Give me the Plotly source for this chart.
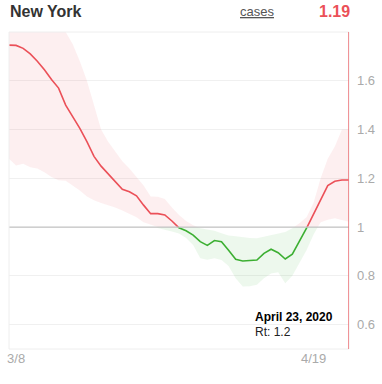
import numpy as np
import pandas as pd
import plotly.graph_objects as go

# ---- data ----
start_date = "2020-03-07"
rt = [1.746, 1.745, 1.733, 1.71, 1.68, 1.645, 1.605, 1.57, 1.50, 1.455,
      1.405, 1.35, 1.29, 1.25, 1.218, 1.185, 1.155, 1.145, 1.128, 1.09,
      1.055, 1.055, 1.05, 1.025, 0.997, 0.985, 0.967, 0.94, 0.925, 0.945,
      0.94, 0.905, 0.868, 0.861, 0.862, 0.865, 0.892, 0.909, 0.895, 0.869,
      0.889, 0.94, 0.995, 1.055, 1.115, 1.17, 1.188, 1.193, 1.193]
upper = [2.3, 2.25, 2.2, 2.12, 2.05, 1.98, 1.92, 1.86, 1.80, 1.75,
         1.68, 1.60, 1.50, 1.40, 1.35, 1.31, 1.27, 1.24, 1.205, 1.17,
         1.125, 1.124, 1.115, 1.08, 1.05, 1.025, 1.008, 0.995, 0.99, 0.985,
         0.975, 0.965, 0.962, 0.958, 0.955, 0.954, 0.96, 0.967, 0.972, 0.98,
         0.995, 1.016, 1.04, 1.10, 1.20, 1.28, 1.33, 1.40, 1.40]
lower = [1.28, 1.253, 1.26, 1.245, 1.24, 1.225, 1.205, 1.192, 1.19, 1.17,
         1.15, 1.125, 1.11, 1.099, 1.09, 1.08, 1.068, 1.055, 1.04, 1.02,
         1.01, 0.996, 0.99, 0.982, 0.974, 0.955, 0.927, 0.872, 0.866, 0.872,
         0.865, 0.84, 0.79, 0.756, 0.757, 0.763, 0.79, 0.81, 0.815, 0.77,
         0.80, 0.85, 0.905, 0.97, 1.02, 1.03, 1.036, 1.03, 1.022]
y_ticks = [0.6, 0.8, 1, 1.2, 1.4, 1.6]
x_tick_dates = ["2020-03-08", "2020-04-19"]
x_tick_text = ["3/8", "4/19"]
title = "New York"
latest = "1.19"
hover_date = "April 23, 2020"
hover_rt = "Rt: 1.2"

RED = "rgb(235,80,88)"
GREEN = "rgb(60,175,50)"
PINK_FILL = "rgba(235,80,88,0.09)"
GREEN_FILL = "rgba(60,175,50,0.09)"

n = len(rt)
t0 = pd.Timestamp(start_date)
xd = np.arange(n, dtype=float)

def with_crossings(xs, series, thr=1.0):
    pts = set(xs.tolist())
    for s in series:
        s = np.asarray(s, float)
        for i in range(len(xs) - 1):
            a, b = s[i] - thr, s[i + 1] - thr
            if a * b < 0:
                pts.add(xs[i] + (xs[i + 1] - xs[i]) * a / (a - b))
    xx = np.array(sorted(pts))
    return xx, [np.interp(xx, xs, s) for s in series]

def to_dates(xx):
    return [t0 + pd.Timedelta(days=float(v)) for v in xx]

fig = go.Figure()

# band
xb, (ub, lb) = with_crossings(xd, [upper, lower])
dB = to_dates(xb)
fig.add_trace(go.Scatter(x=dB, y=np.maximum(lb, 1), mode="lines", line=dict(width=0),
                         hoverinfo="skip", showlegend=False))
fig.add_trace(go.Scatter(x=dB, y=np.maximum(ub, 1), mode="lines", line=dict(width=0),
                         fill="tonexty", fillcolor=PINK_FILL, hoverinfo="skip", showlegend=False))
fig.add_trace(go.Scatter(x=dB, y=np.minimum(lb, 1), mode="lines", line=dict(width=0),
                         hoverinfo="skip", showlegend=False))
fig.add_trace(go.Scatter(x=dB, y=np.minimum(ub, 1), mode="lines", line=dict(width=0),
                         fill="tonexty", fillcolor=GREEN_FILL, hoverinfo="skip", showlegend=False))

# reference line at 1
fig.add_shape(type="line", xref="paper", x0=0, x1=1, yref="y", y0=1, y1=1,
              line=dict(color="#c4c4c4", width=1.2))

# Rt line split by colour
xl, (yl,) = with_crossings(xd, [rt])
dL = to_dates(xl)
ya = np.where(yl >= 1 - 1e-9, yl, np.nan)
yb = np.where(yl <= 1 + 1e-9, yl, np.nan)
fig.add_trace(go.Scatter(x=dL, y=ya, mode="lines", line=dict(color=RED, width=1.6),
                         connectgaps=False, showlegend=False))
fig.add_trace(go.Scatter(x=dL, y=yb, mode="lines", line=dict(color=GREEN, width=1.6),
                         connectgaps=False, showlegend=False))

last = t0 + pd.Timedelta(days=n - 1)
# frame
fig.add_shape(type="rect", xref="paper", yref="paper", x0=0, x1=1, y0=0, y1=1,
              line=dict(color="#eeeeee", width=1))
# hover marker line
fig.add_shape(type="line", xref="x", yref="paper", x0=last, x1=last, y0=0, y1=1,
              line=dict(color=RED, width=1.2))

H = 317.0
def py(pix):
    return (349 - pix) / H
W = 343.0
def px(pix):
    return (pix - 7) / W

font = "Liberation Sans, Arial, sans-serif"
fig.add_annotation(xref="paper", yref="paper", x=px(6), y=py(12), xanchor="left", yanchor="middle",
                   text="<b>" + title + "</b>", showarrow=False,
                   font=dict(size=16, color="#333333", family=font))
fig.add_annotation(xref="paper", yref="paper", x=px(257), y=py(12), xanchor="center", yanchor="middle",
                   text="<u>cases</u>", showarrow=False,
                   font=dict(size=13, color="#555555", family=font))
fig.add_annotation(xref="paper", yref="paper", x=px(353), y=py(12), xanchor="right", yanchor="middle",
                   text="<b>" + latest + "</b>", showarrow=False,
                   font=dict(size=16, color=RED, family=font))
fig.add_annotation(xref="paper", yref="paper", x=px(253), y=py(317), xanchor="left", yanchor="middle",
                   text="<b>" + hover_date + "</b>", showarrow=False,
                   font=dict(size=12, color="#000000", family=font))
fig.add_annotation(xref="paper", yref="paper", x=px(253), y=py(332), xanchor="left", yanchor="middle",
                   text=hover_rt, showarrow=False,
                   font=dict(size=12, color="#222222", family=font))

fig.update_layout(
    width=382, height=384,
    margin=dict(l=7, r=32, t=32, b=35, pad=0),
    paper_bgcolor="white", plot_bgcolor="white",
    showlegend=False,
    font=dict(family=font),
    xaxis=dict(type="date", range=[t0, last], tickvals=[pd.Timestamp(d) for d in x_tick_dates],
               ticktext=x_tick_text, showgrid=False, zeroline=False, showline=False,
               ticks="", tickfont=dict(size=13, color="#aaaaaa"), fixedrange=True),
    yaxis=dict(range=[0.5, 1.8], side="right", tickvals=y_ticks,
               ticktext=[str(v) if v != 1 else "1" for v in y_ticks],
               showgrid=True, gridcolor="#f0f0f0", gridwidth=1, zeroline=False,
               showline=False, ticks="", ticklabelstandoff=7,
               tickfont=dict(size=13, color="#aaaaaa")),
)

fig.write_html("out.html")
